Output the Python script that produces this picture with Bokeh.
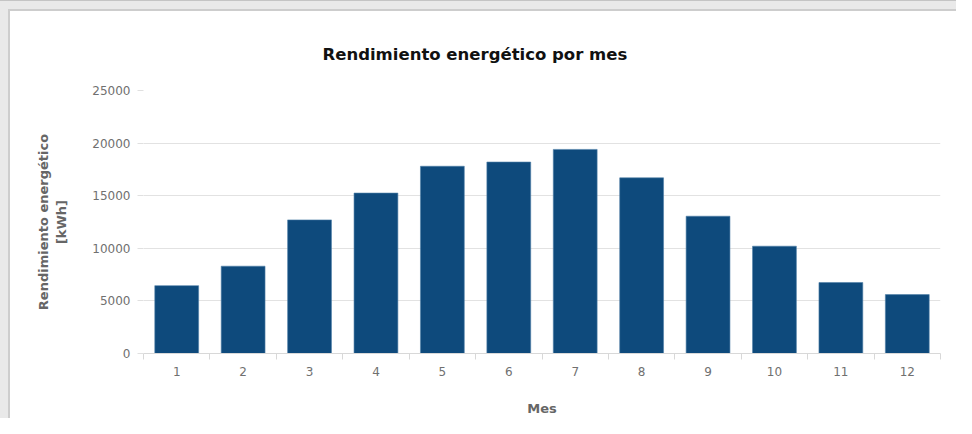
from bokeh.plotting import figure
from bokeh.models import FixedTicker, Range1d, Title, InlineStyleSheet
from bokeh.embed import file_html
from bokeh.resources import INLINE

months = [1, 2, 3, 4, 5, 6, 7, 8, 9, 10, 11, 12]
month_labels = ["1", "2", "3", "4", "5", "6", "7", "8", "9", "10", "11", "12"]
energy_kwh = [6450, 8300, 12700, 15250, 17800, 18200, 19400, 16700, 13050, 10200, 6750, 5600]
y_ticks = [0, 5000, 10000, 15000, 20000, 25000]

FONT = "DejaVu Sans"

p = figure(width=956, height=418, output_backend="svg", toolbar_location=None,
           x_range=Range1d(0.5, 12.5), y_range=Range1d(0, 25000),
           min_border_left=143, min_border_right=16, min_border_top=90, min_border_bottom=64)

p.vbar(x=months, top=energy_kwh, width=0.66, fill_color="#0e4a7c",
       line_color="#4f7fa8", line_width=0.6)

t = Title(text="Rendimiento energético por mes", align="left", offset=179,
          text_font=FONT, text_font_size="16.5px", text_font_style="bold",
          text_color="#111111", standoff=53)
p.add_layout(t, "above")

p.outline_line_color = None
p.background_fill_color = "white"
p.border_fill_color = None
p.stylesheets = [InlineStyleSheet(css=(
    ":host { background-color: white; "
    "box-shadow: inset 0 1px 0 0 #c4c4c4, inset 8px 9px 0 0 #e9e9e9, inset 10px 11px 0 0 #cdcdcd; }"
))]

# x axis
p.xaxis.ticker = FixedTicker(ticks=months, minor_ticks=[m - 0.5 for m in months] + [12.5])
p.xaxis.major_label_overrides = {m: lab for m, lab in zip(months, month_labels)}
p.xaxis.major_tick_line_color = None
p.xaxis.major_tick_out = 0
p.xaxis.major_tick_in = 0
p.xaxis.minor_tick_out = 6
p.xaxis.minor_tick_in = 0
p.xaxis.minor_tick_line_color = "#d8d8d8"
p.xaxis.axis_line_color = "#d8d8d8"
p.xaxis.major_label_standoff = 7
p.xaxis.major_label_text_font = FONT
p.xaxis.major_label_text_font_size = "12px"
p.xaxis.major_label_text_color = "#707070"
p.xaxis.axis_label = "Mes"
p.xaxis.axis_label_text_font = FONT
p.xaxis.axis_label_text_font_size = "13px"
p.xaxis.axis_label_text_font_style = "bold"
p.xaxis.axis_label_text_color = "#666666"
p.xaxis.axis_label_standoff = 22

# y axis
p.yaxis.ticker = FixedTicker(ticks=y_ticks)
p.yaxis.minor_tick_line_color = None
p.yaxis.axis_line_color = None
p.yaxis.major_tick_line_color = "#e0e0e0"
p.yaxis.major_tick_out = 6
p.yaxis.major_tick_in = 0
p.yaxis.major_label_standoff = 7
p.yaxis.major_label_text_font = FONT
p.yaxis.major_label_text_font_size = "12px"
p.yaxis.major_label_text_color = "#707070"
p.yaxis.axis_label = "Rendimiento energético\n[kWh]"
p.yaxis.axis_label_text_font = FONT
p.yaxis.axis_label_text_font_size = "13px"
p.yaxis.axis_label_text_font_style = "bold"
p.yaxis.axis_label_text_color = "#666666"
p.yaxis.axis_label_standoff = 20

p.xgrid.grid_line_color = None
p.ygrid.grid_line_color = "#e2e2e2"
p.ygrid.ticker = FixedTicker(ticks=y_ticks)

open("out.html", "w").write(file_html(p, INLINE))
